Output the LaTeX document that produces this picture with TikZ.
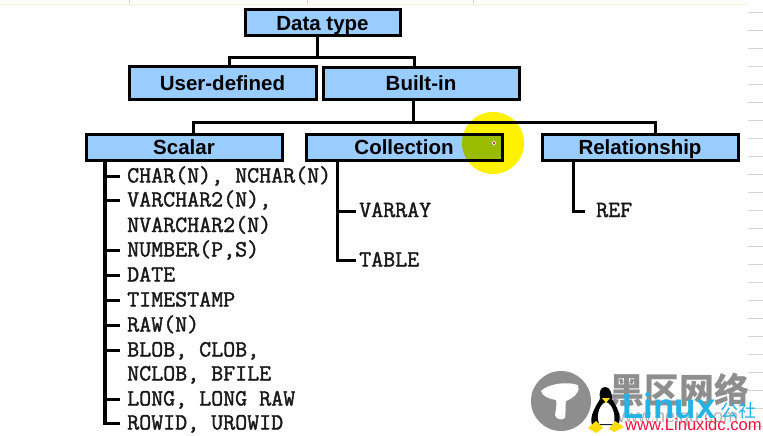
\documentclass[tikz,border=0pt]{standalone}
\usepackage{fontspec}
\setmainfont{Liberation Sans}
\setmonofont[FakeBold=1.6]{Latin Modern Mono}
\newfontfamily\cjkfont{Noto Sans CJK SC}
\usetikzlibrary{calc}
\definecolor{boxblue}{HTML}{99CCFF}
\definecolor{overlap}{HTML}{99BB00}
\definecolor{wmgray}{HTML}{8E8E8E}
\definecolor{wmcyan}{HTML}{22B4E4}
\definecolor{wmred}{HTML}{F5103C}
\definecolor{tickgray}{HTML}{D4D4D4}
\tikzset{
  x=1pt,y=-1pt,
  typebox/.style={draw=black,line width=3pt,fill=boxblue,inner sep=0pt,
    text height=14.5pt,text depth=0pt,
    font=\fontsize{20.5}{20.5}\selectfont\bfseries,text=black},
  conn/.style={draw=black,line width=3pt,line join=miter},
  item/.style={anchor=west,inner sep=0pt,text height=12pt,text depth=0pt,
    font=\fontsize{23.3}{23.3}\selectfont\ttfamily,text=black!90},
  sheettick/.style={draw=tickgray,line width=0.8pt},
}
\begin{document}
\begin{tikzpicture}
\useasboundingbox (0,0) rectangle (763,436);
% sheet marks
\draw[draw=orange!12,line width=0.8pt] (0,4) -- (748,4);
\foreach \tx in {129,307,473}{\draw[sheettick] (\tx,0) -- (\tx,4);}
\foreach \k in {0,...,23}{\draw[sheettick] (748,12+18*\k) -- (763,12+18*\k);}
% highlight
\fill[yellow] (493,143) circle (31);
% boxes
\node[typebox,minimum width=155pt,minimum height=26pt] (dt) at (322.5,23) {Data type};
\node[typebox,minimum width=187pt,minimum height=32pt] (ud) at (222.5,83) {User-defined};
\node[typebox,minimum width=196pt,minimum height=32pt] (bi) at (421,83.5) {Built-in};
\node[typebox,minimum width=196pt,minimum height=26pt] (sc) at (184,147) {Scalar};
\node[typebox,minimum width=196pt,minimum height=26pt,
  path picture={\fill[overlap] ([xshift=89pt,yshift=4pt]path picture bounding box.center) circle (31pt);}] (co) at (404,147) {Collection};
\node[typebox,minimum width=196pt,minimum height=26pt] (re) at (640,147) {Relationship};
\fill[red!70!black,draw=white,line width=0.7pt] (494,143) circle (1.8);
% upper connectors
\coordinate (j1) at (317,58);
\coordinate (j1l) at (229,58);
\coordinate (j1r) at (414,58);
\draw[conn] (j1 |- dt.south) -- (j1);
\draw[conn] (j1l |- ud.north) -- (j1l) -- (j1r) -- (j1r |- bi.north);
\coordinate (j2) at (413,122);
\coordinate (j2l) at (193,122);
\coordinate (j2r) at (655,122);
\draw[conn] (j2 |- bi.south) -- (j2);
\draw[conn] (j2l |- sc.north) -- (j2l) -- (j2r) -- (j2r |- re.north);
% scalar list
\node[item] (s1) at (127,176.5) {CHAR(N), NCHAR(N)};
\node[item] (s2) at (127,200.5) {VARCHAR2(N),};
\node[item] (s2b) at (127,226) {NVARCHAR2(N)};
\node[item] (s3) at (127,250.5) {NUMBER(P,S)};
\node[item] (s4) at (127,275.5) {DATE};
\node[item] (s5) at (127,300.5) {TIMESTAMP};
\node[item] (s6) at (127,325.5) {RAW(N)};
\node[item] (s7) at (127,350.5) {BLOB, CLOB,};
\node[item] (s7b) at (127,374.5) {NCLOB, BFILE};
\node[item] (s8) at (127,399.5) {LONG, LONG RAW};
\node[item] (s9) at (127,423.5) {ROWID, UROWID};
\coordinate (sx) at (105,160);
\draw[conn,line width=3.5pt] (sx |- sc.south) -- (sx |- s9.west) -- ([xshift=-7pt]s9.west);
\foreach \n in {s1,s2,s3,s4,s5,s6,s7,s8}{\draw[conn] (sx |- \n.west) -- ([xshift=-7pt]\n.west);}
% collection list
\node[item] (c1) at (359,211) {VARRAY};
\node[item] (c2) at (359,260.5) {TABLE};
\coordinate (cx) at (337,160);
\draw[conn] (cx |- co.south) -- (cx |- c2.west) -- ([xshift=-3pt]c2.west);
\draw[conn] (cx |- c1.west) -- ([xshift=-3pt]c1.west);
% relationship list
\node[item] (r1) at (596,211) {REF};
\coordinate (rx) at (573,160);
\draw[conn] (rx |- re.south) -- (rx |- r1.west) -- ([xshift=-11pt]r1.west);
% watermark: mushroom disc
\fill[wmgray] (561,401) circle (30);
\fill[white] (541,391) .. controls (548,384) and (566,381) .. (578,385) .. controls (581,391) and (574,398) .. (566,401) .. controls (565,408) and (566,414) .. (565,418) .. controls (561,421) and (556,419) .. (555,415) .. controls (556,409) and (557,404) .. (556,400) .. controls (549,399) and (542,396) .. (541,391) -- cycle;
% watermark: text
\node[anchor=west,inner sep=0pt,text=wmgray] (w1) at (609,390) {\cjkfont\bfseries\fontsize{35}{35}\selectfont 黑区网络};
\node[anchor=west,inner sep=0pt,text=wmgray!70] (w2) at (612,418) {\fontsize{18}{18}\selectfont www.heiqu.com};
\node[anchor=west,inner sep=0pt,text=wmcyan] (w3) at (622,406) {\fontsize{35}{35}\selectfont\bfseries Linux};
\node[anchor=west,inner sep=0pt,text=wmcyan] (w4) at (720,411) {\cjkfont\fontsize{18}{18}\selectfont 公社};
\node[anchor=west,inner sep=0pt,text=wmred] (w5) at (625,425) {\fontsize{16.6}{16.6}\selectfont www.Linuxidc.com};
% watermark: penguin
\fill[black] (605,387) .. controls (600,387) and (599,393) .. (600,399) .. controls (596,406) and (589,416) .. (592,425) -- (618,425) .. controls (623,416) and (616,406) .. (612,399) .. controls (612,393) and (610,387) .. (605,387) -- cycle;
\fill[white] (606,402) .. controls (600,404) and (596,414) .. (599,424) -- (614,424) .. controls (616,414) and (612,404) .. (606,402) -- cycle;
\fill[yellow!80!orange] (602,398) -- (610,398) -- (606,403) -- cycle;
\fill[yellow!80!orange] (588,428) -- (596,421) -- (603,428) -- (596,433) -- cycle;
\fill[yellow!80!orange] (609,429) -- (615,421) -- (624,427) -- (614,432) -- cycle;
\end{tikzpicture}
\end{document}
